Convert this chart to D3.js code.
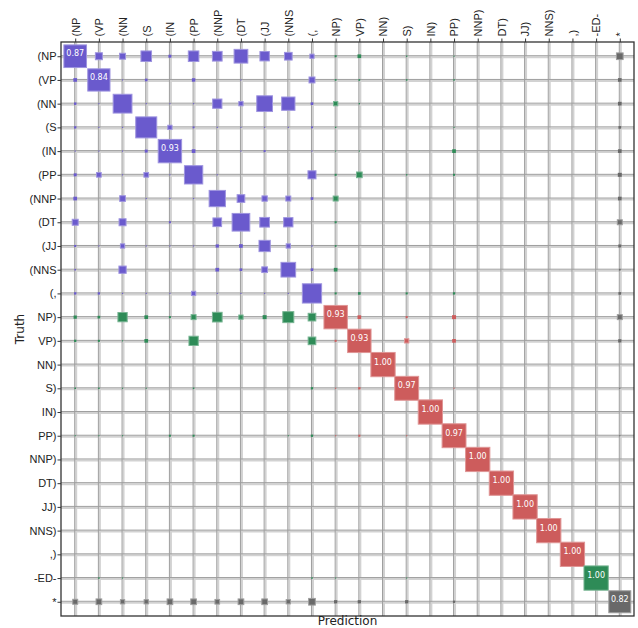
<!DOCTYPE html>
<html lang="en">
<head>
<meta charset="UTF-8">
<title>Confusion matrix</title>
<script src="https://d3js.org/d3.v7.min.js"></script>
<style>
    body { margin: 0; background: #fff; }
    svg { font-family: "DejaVu Sans", sans-serif; }
    .axis path { display: none; }
    .axis line { stroke: #333; stroke-width: 1; }
    .axis text { font-size: 11px; fill: #222; }
</style>
</head>
<body>
<svg id="chart" width="638" height="628"></svg>
<script>
    const labels = ["(NP", "(VP", "(NN", "(S", "(IN", "(PP", "(NNP", "(DT", "(JJ", "(NNS", "(,",
        "NP)", "VP)", "NN)", "S)", "IN)", "PP)", "NNP)", "DT)", "JJ)", "NNS)", ",)", "-ED-", "*"];

    // label kinds: open bracket, close bracket, -ED-, *
    const kinds = ["open", "open", "open", "open", "open", "open", "open", "open", "open", "open", "open",
        "close", "close", "close", "close", "close", "close", "close", "close", "close", "close", "close", "ed", "star"];

    // rows = truth, columns = prediction
    const matrix = [
        [0.87, 0.083, 0.06, 0.19, 0.015, 0.19, 0.16, 0.32, 0.15, 0.10, 0.03, 0.007, 0.023, 0, 0.003, 0, 0.002, 0, 0, 0, 0, 0, 0, 0.076],
        [0.023, 0.84, 0.002, 0.012, 0, 0.02, 0, 0.002, 0, 0, 0.06, 0.005, 0.005, 0, 0.004, 0, 0.004, 0, 0, 0, 0, 0, 0, 0.023],
        [0.01, 0.002, 0.6, 0.002, 0.002, 0.002, 0.146, 0.031, 0.42, 0.30, 0.012, 0.031, 0.003, 0, 0, 0, 0, 0, 0, 0, 0, 0, 0, 0.023],
        [0.009, 0.002, 0.002, 0.75, 0.031, 0.006, 0.002, 0.002, 0.002, 0.002, 0.006, 0.003, 0, 0, 0, 0, 0.002, 0, 0, 0, 0, 0, 0, 0.012],
        [0.002, 0.002, 0.002, 0.015, 0.93, 0.023, 0, 0.002, 0.007, 0, 0.002, 0.002, 0.002, 0, 0, 0, 0.023, 0, 0, 0, 0, 0, 0, 0.023],
        [0.015, 0.037, 0.002, 0.037, 0.002, 0.57, 0.002, 0, 0, 0, 0.11, 0.007, 0.055, 0, 0.003, 0, 0.007, 0, 0, 0, 0, 0, 0, 0.027],
        [0.023, 0, 0.055, 0.002, 0.002, 0.002, 0.45, 0.10, 0.048, 0.042, 0.012, 0.042, 0, 0, 0, 0, 0, 0, 0, 0, 0, 0, 0, 0.023],
        [0.061, 0, 0.083, 0, 0.007, 0, 0.128, 0.53, 0.159, 0.146, 0, 0.007, 0, 0, 0, 0, 0, 0, 0, 0, 0, 0, 0, 0.042],
        [0.007, 0.002, 0.031, 0.002, 0.002, 0.002, 0.018, 0.023, 0.216, 0.031, 0.003, 0.005, 0, 0, 0, 0, 0, 0, 0, 0, 0, 0, 0, 0.015],
        [0.004, 0, 0.09, 0, 0, 0, 0.023, 0.012, 0.055, 0.366, 0.012, 0.023, 0, 0, 0, 0, 0, 0, 0, 0, 0, 0, 0, 0.005],
        [0.009, 0.009, 0.002, 0.002, 0.002, 0.031, 0.002, 0.002, 0.002, 0.002, 0.63, 0.007, 0.012, 0, 0.007, 0, 0.009, 0, 0, 0, 0, 0, 0, 0.012],
        [0.018, 0.012, 0.146, 0.023, 0.007, 0.042, 0.159, 0.031, 0.027, 0.205, 0.10, 0.93, 0.023, 0, 0.007, 0, 0.027, 0, 0, 0, 0, 0, 0, 0.042],
        [0.009, 0.007, 0.002, 0.023, 0, 0.146, 0, 0, 0, 0, 0.10, 0.007, 0.93, 0, 0.031, 0, 0.023, 0, 0, 0, 0, 0, 0, 0.018],
        [0, 0, 0, 0, 0, 0, 0, 0, 0, 0, 0, 0, 0, 1.00, 0, 0, 0, 0, 0, 0, 0, 0, 0, 0],
        [0.004, 0.004, 0.002, 0.002, 0, 0.004, 0, 0, 0, 0, 0.009, 0.002, 0.009, 0, 0.97, 0, 0.002, 0, 0, 0, 0, 0, 0, 0.002],
        [0, 0, 0, 0, 0, 0, 0, 0, 0, 0, 0, 0, 0, 0, 0, 1.00, 0, 0, 0, 0, 0, 0, 0, 0],
        [0.002, 0.002, 0.002, 0, 0.007, 0.007, 0, 0, 0, 0.002, 0.009, 0.002, 0.007, 0, 0.002, 0, 0.97, 0, 0, 0, 0, 0, 0, 0.002],
        [0, 0, 0, 0, 0, 0, 0, 0, 0, 0, 0, 0, 0, 0, 0, 0, 0, 1.00, 0, 0, 0, 0, 0, 0],
        [0, 0, 0, 0, 0, 0, 0, 0, 0, 0, 0, 0, 0, 0, 0, 0, 0, 0, 1.00, 0, 0, 0, 0, 0],
        [0, 0, 0, 0, 0, 0, 0, 0, 0, 0, 0, 0, 0, 0, 0, 0, 0, 0, 0, 1.00, 0, 0, 0, 0],
        [0, 0, 0, 0, 0, 0, 0, 0, 0, 0, 0, 0, 0, 0, 0, 0, 0, 0, 0, 0, 1.00, 0, 0, 0],
        [0, 0, 0, 0, 0, 0, 0, 0, 0, 0, 0, 0, 0, 0, 0, 0, 0, 0, 0, 0, 0, 1.00, 0, 0],
        [0, 0.004, 0.002, 0, 0, 0, 0, 0, 0, 0, 0.004, 0.002, 0, 0, 0.002, 0, 0, 0, 0, 0, 0, 0, 1.00, 0],
        [0.042, 0.055, 0.031, 0.031, 0.055, 0.055, 0.037, 0.055, 0.055, 0.031, 0.076, 0.018, 0.018, 0, 0.018, 0, 0.009, 0, 0, 0, 0, 0, 0, 0.82]
    ];

    const colors = { open: "#6a5acd", close: "#cd5c5c", mixed: "#2e8b57", star: "#696969" };

    function cellColor(r, c) {
        const a = kinds[r], b = kinds[c];
        if (a === "star" || b === "star") return colors.star;
        if (a === "open" && b === "open") return colors.open;
        if (a === "close" && b === "close") return colors.close;
        return colors.mixed;
    }

    const plotLeft = 61, plotRight = 634, plotTop = 42, plotBottom = 616;
    const svg = d3.select("#chart");

    const x = d3.scalePoint().domain(labels).range([plotLeft, plotRight]).padding(0.6);
    const y = d3.scalePoint().domain(labels).range([plotTop, plotBottom]).padding(0.6);
    const side = d3.scaleSqrt().domain([0, 1]).range([0, x.step() * 1.025]);

    // grid: a light wide line with a thin darker line beside it
    const grid = svg.append("g");
    labels.forEach(l => {
        grid.append("line").attr("x1", x(l) + 1).attr("x2", x(l) + 1).attr("y1", plotTop).attr("y2", plotBottom)
            .attr("stroke", "#d2d2d2").attr("stroke-width", 2);
        grid.append("line").attr("x1", plotLeft).attr("x2", plotRight).attr("y1", y(l) + 1).attr("y2", y(l) + 1)
            .attr("stroke", "#d2d2d2").attr("stroke-width", 2);
    });
    labels.forEach(l => {
        grid.append("line").attr("x1", x(l) - 0.5).attr("x2", x(l) - 0.5).attr("y1", plotTop).attr("y2", plotBottom)
            .attr("stroke", "#9e9e9e").attr("stroke-width", 1);
        grid.append("line").attr("x1", plotLeft).attr("x2", plotRight).attr("y1", y(l) - 0.5).attr("y2", y(l) - 0.5)
            .attr("stroke", "#9e9e9e").attr("stroke-width", 1);
    });

    const cells = [];
    matrix.forEach((row, r) => row.forEach((v, c) => {
        if (v > 0) cells.push({ truth: labels[r], pred: labels[c], value: v, color: cellColor(r, c) });
    }));

    svg.append("g").selectAll("rect")
        .data(cells)
        .join("rect")
        .attr("x", d => x(d.pred) - side(d.value) / 2)
        .attr("y", d => y(d.truth) - side(d.value) / 2)
        .attr("width", d => side(d.value))
        .attr("height", d => side(d.value))
        .attr("fill", d => d.color)
        .attr("stroke", d => d3.interpolateRgb(d.color, "#fff")(0.35))
        .attr("stroke-width", d => side(d.value) > 4 ? 1 : 0);

    svg.append("g").selectAll("text")
        .data(cells.filter(d => d.value >= 0.8))
        .join("text")
        .attr("x", d => x(d.pred))
        .attr("y", d => y(d.truth))
        .attr("text-anchor", "middle")
        .attr("fill", "#fff")
        .style("font-size", "8px")
        .text(d => d.value.toFixed(2));

    // frame
    svg.append("rect").attr("x", plotLeft).attr("y", plotTop)
        .attr("width", plotRight - plotLeft).attr("height", plotBottom - plotTop)
        .attr("fill", "none").attr("stroke", "#333").attr("stroke-width", 1.3);

    const xAxis = svg.append("g").attr("class", "axis")
        .attr("transform", `translate(0,${plotTop})`)
        .call(d3.axisTop(x).tickSize(3.5).tickPadding(2));
    xAxis.selectAll("text")
        .attr("transform", "rotate(-90)")
        .attr("text-anchor", "start")
        .attr("x", 5.5)
        .attr("y", 0)
        .attr("dy", "0.35em");

    svg.append("g").attr("class", "axis")
        .attr("transform", `translate(${plotLeft},0)`)
        .call(d3.axisLeft(y).tickSize(3.5).tickPadding(1));

    svg.append("text")
        .attr("x", (plotLeft + plotRight) / 2).attr("y", 625)
        .attr("text-anchor", "middle")
        .style("font-size", "12px").attr("fill", "#222")
        .text("Prediction");

    svg.append("text")
        .attr("transform", `translate(24,${(plotTop + plotBottom) / 2}) rotate(-90)`)
        .attr("text-anchor", "middle")
        .style("font-size", "12px").attr("fill", "#222")
        .text("Truth");
</script>
</body>
</html>
